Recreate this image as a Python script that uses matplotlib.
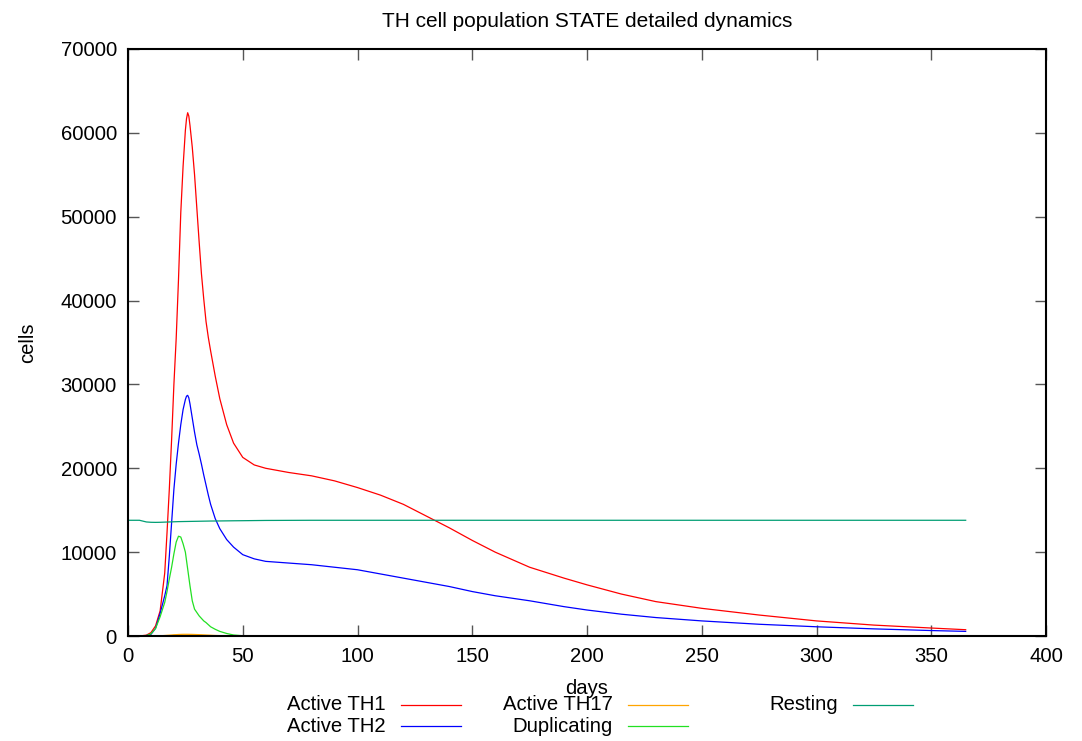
import matplotlib.pyplot as plt
from matplotlib.lines import Line2D

plt.rcParams['font.family'] = ['Liberation Sans', 'DejaVu Sans']

days = [0, 5, 8, 10, 12, 14, 16, 17, 18, 19, 20, 21, 22, 23, 24, 25, 25.5, 26, 26.5,
        27, 28, 29, 30, 31, 32, 33, 34, 35, 36, 38, 40, 43, 46, 50, 55, 60, 70, 80,
        90, 100, 110, 120, 130, 140, 150, 160, 175, 190, 200, 215, 230, 250, 275, 300,
        325, 350, 365]

th1 = [0, 0, 100, 400, 1200, 3000, 7500, 12300, 17500, 23400, 30000, 35500, 42500,
       50500, 56000, 60300, 61700, 62400, 62000, 60900, 58300, 55000, 51000, 47000,
       43200, 40200, 37500, 35600, 34000, 31000, 28300, 25200, 23000, 21300, 20400,
       20000, 19500, 19100, 18500, 17700, 16800, 15700, 14300, 12900, 11400, 10000,
       8200, 6900, 6100, 5000, 4100, 3300, 2500, 1800, 1300, 950, 750]

th2 = [0, 0, 50, 200, 900, 2700, 4800, 6000, 9500, 13500, 17500, 20500, 23000, 25200,
       27000, 28200, 28600, 28700, 28400, 27700, 26000, 24300, 22800, 21700, 20500,
       19200, 18000, 16800, 15700, 14000, 12800, 11500, 10600, 9700, 9200, 8900, 8700,
       8500, 8200, 7900, 7400, 6900, 6400, 5900, 5300, 4800, 4200, 3500, 3100, 2600,
       2200, 1800, 1400, 1100, 850, 650, 550]

th17 = [0, 0, 0, 0, 10, 20, 60, 80, 100, 120, 150, 160, 180, 190, 200, 200, 200, 200,
        198, 195, 190, 180, 170, 160, 150, 135, 120, 105, 90, 60, 40, 20, 10, 0, 0, 0,
        0, 0, 0, 0, 0, 0, 0, 0, 0, 0, 0, 0, 0, 0, 0, 0, 0, 0, 0, 0, 0]

duplicating = [0, 0, 50, 250, 900, 2300, 4000, 5300, 6800, 8200, 9800, 11200, 11900,
               11800, 11000, 10000, 9000, 8000, 7000, 6000, 4200, 3200, 2800, 2400,
               2100, 1800, 1600, 1350, 1100, 800, 550, 300, 120, 30, 0, 0, 0, 0, 0, 0,
               0, 0, 0, 0, 0, 0, 0, 0, 0, 0, 0, 0, 0, 0, 0, 0, 0]

resting = [13800, 13800, 13600, 13560, 13550, 13560, 13580, 13590, 13600, 13610, 13620,
           13630, 13640, 13645, 13650, 13655, 13657, 13660, 13662, 13665, 13670, 13675,
           13680, 13685, 13690, 13695, 13700, 13705, 13710, 13715, 13720, 13730, 13740,
           13750, 13765, 13780, 13790, 13800, 13800, 13800, 13800, 13800, 13800, 13800,
           13800, 13800, 13800, 13800, 13800, 13800, 13800, 13800, 13800, 13800, 13800,
           13800, 13800]

labels = ['Active TH1', 'Active TH2', 'Active TH17', 'Duplicating', 'Resting']
series = [th1, th2, th17, duplicating, resting]
colors = ['#ff0000', '#0000ff', '#ffa500', '#22e022', '#009e73']

fig = plt.figure(figsize=(10.82, 7.41), dpi=100)
ax = fig.add_axes([128 / 1082, 1 - 636 / 741, 918 / 1082, 587 / 741])

for vals, c in zip(series, colors):
    ax.plot(days, vals, color=c, lw=0.9)

ax.set_xlim(0, 400)
ax.set_ylim(0, 70000)
ax.set_xticks(range(0, 401, 50))
ax.set_yticks(range(0, 70001, 10000))
ax.tick_params(direction='in', length=8, width=1, color='#555555', labelsize=14.6,
               top=True, right=True, pad=8)
for s in ax.spines.values():
    s.set_linewidth(1.5)

ax.set_title('TH cell population STATE detailed dynamics', fontsize=15, pad=16)
fig.text(587 / 1082, 1 - 688 / 741, 'days', ha='center', va='center', fontsize=14.6)
fig.text(28 / 1082, 1 - 343 / 741, 'cells', ha='center', va='center', rotation=90,
         fontsize=14.6)

# gnuplot-style key below the plot: text right-aligned, sample to the right
col_text_right = [386, 613, 838]
row_y = [705, 726]
for i, (lab, c) in enumerate(zip(labels, colors)):
    col, row = divmod(i, 2)
    xr = col_text_right[col]
    y = 1 - row_y[row] / 741
    fig.text(xr / 1082, y, lab, ha='right', va='center', fontsize=14.6)
    fig.add_artist(Line2D([(xr + 15) / 1082, (xr + 75) / 1082], [y, y], color=c, lw=0.9))

fig.savefig('out.png', dpi=100)
